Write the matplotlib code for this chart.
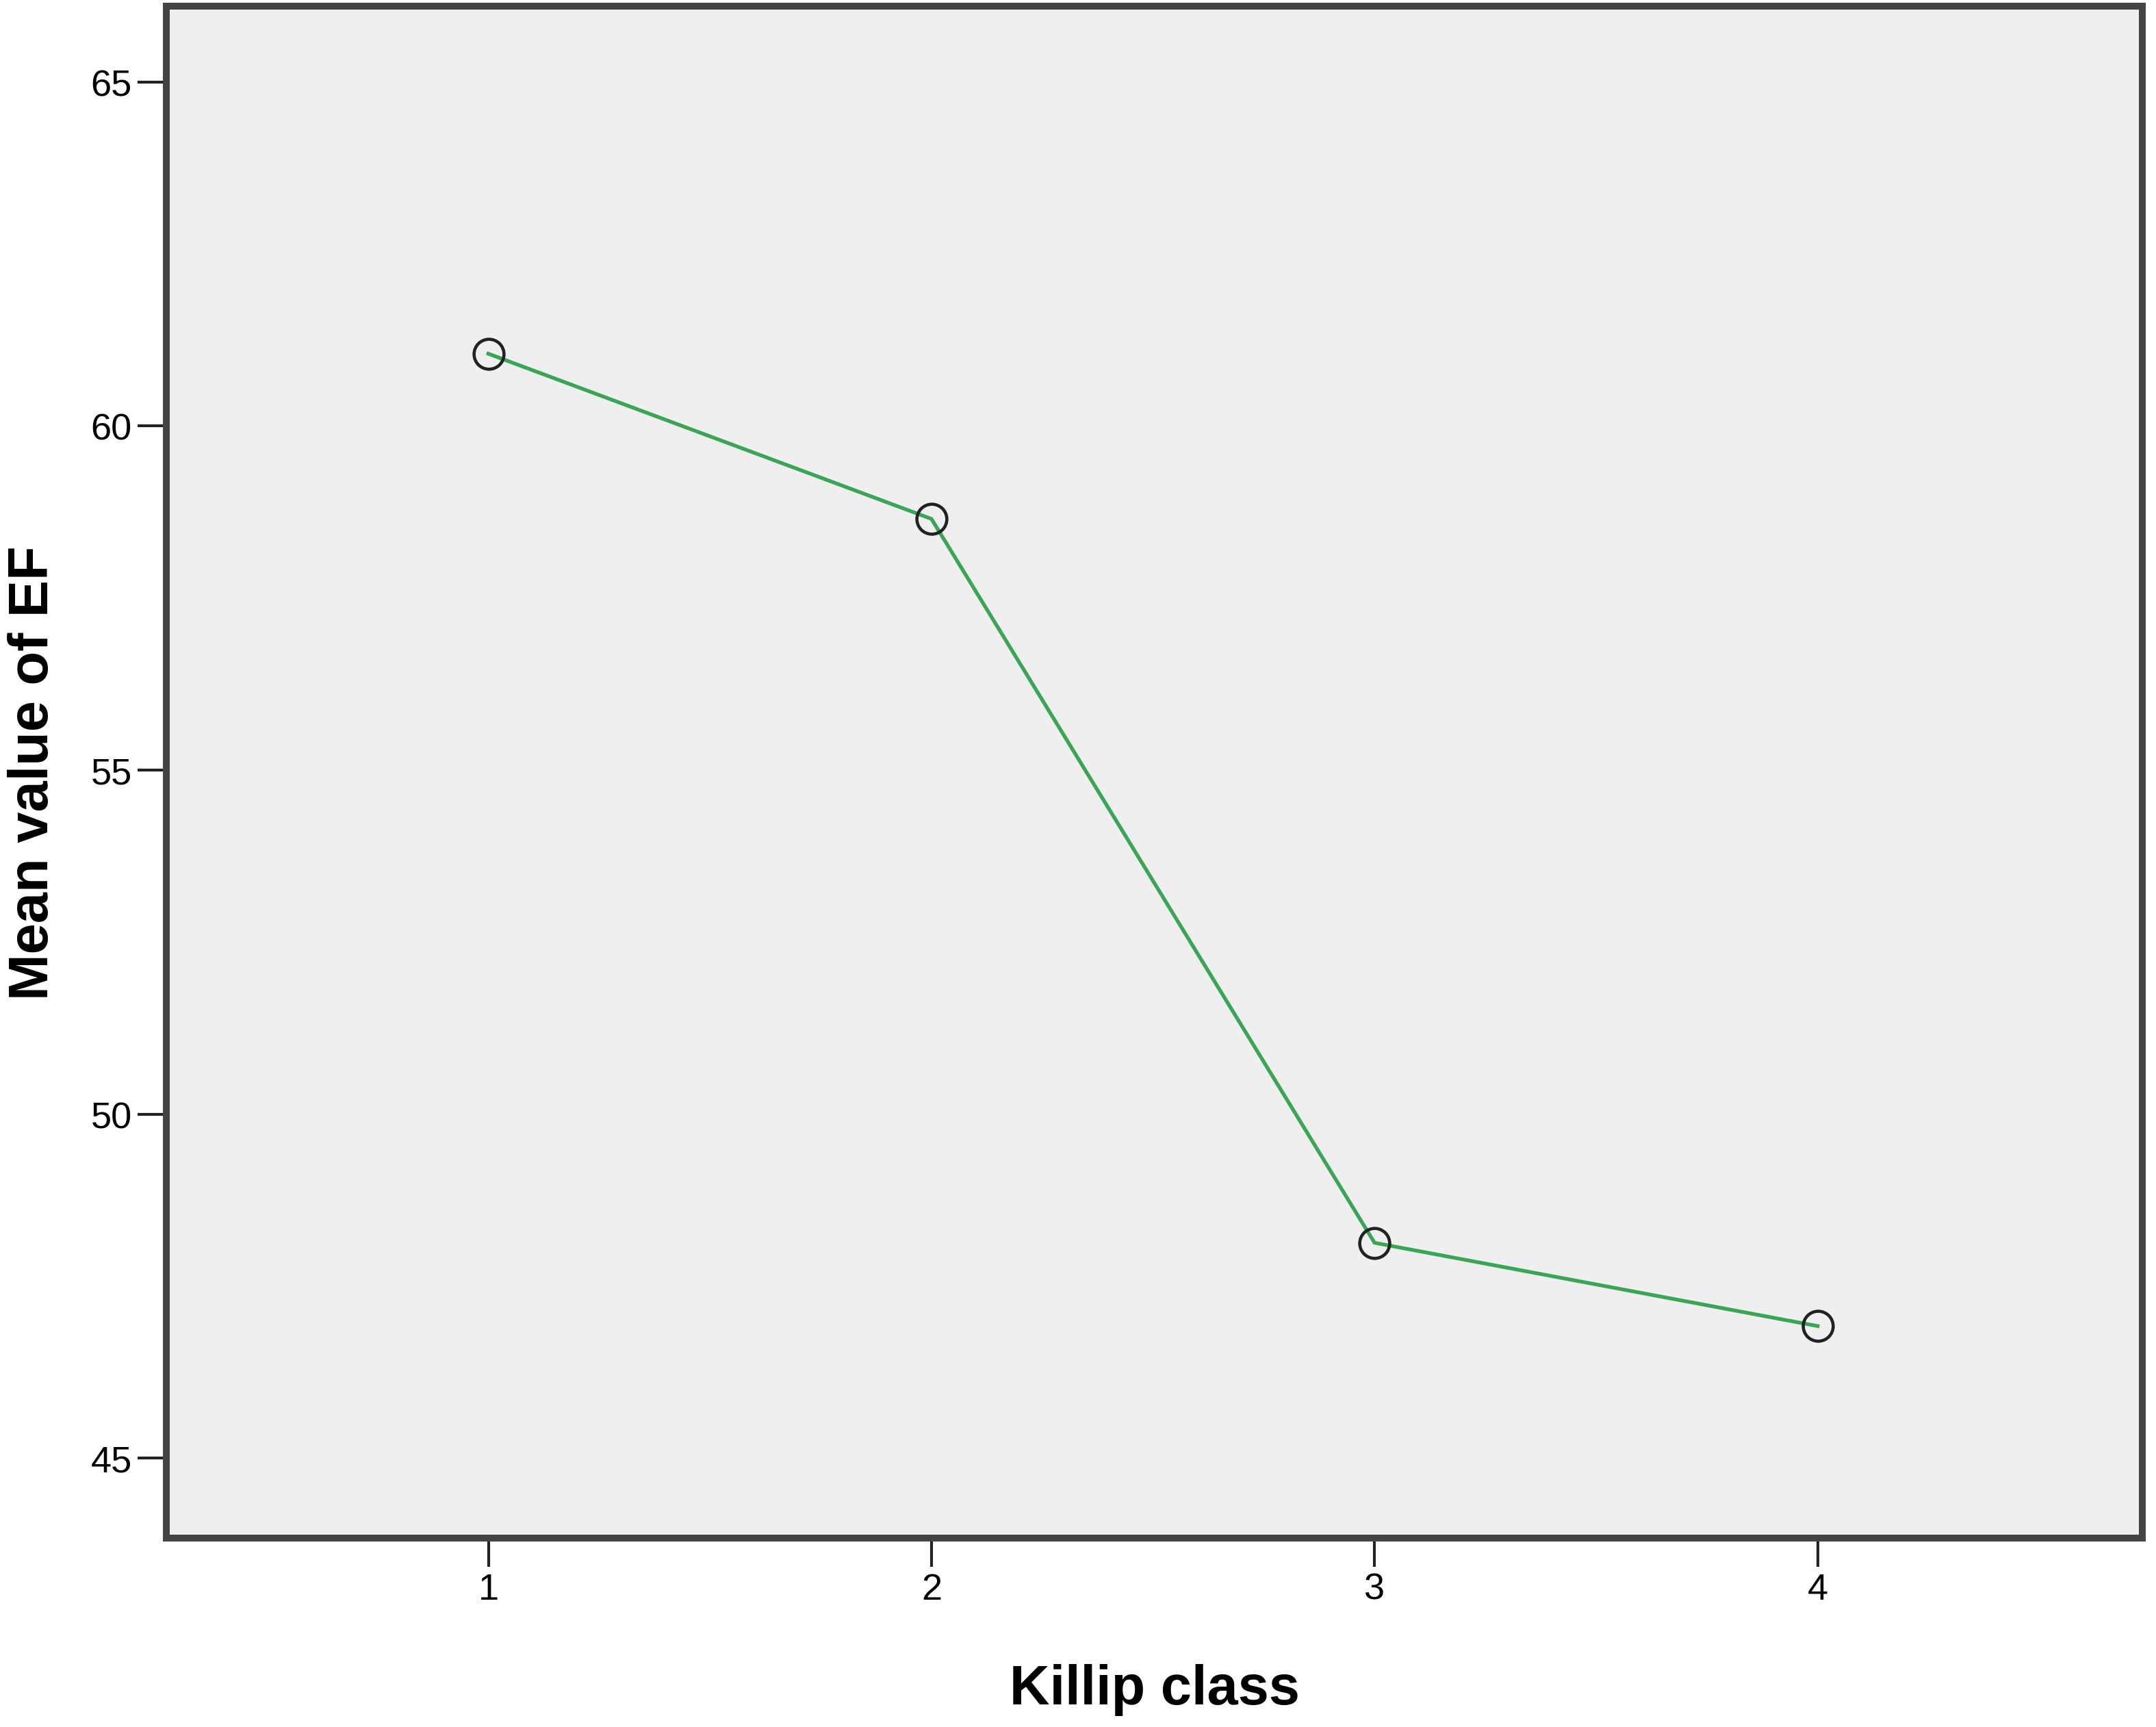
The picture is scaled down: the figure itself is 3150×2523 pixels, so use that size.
import numpy as np
import matplotlib.pyplot as plt

plt.rcParams["font.family"] = ["Liberation Sans", "DejaVu Sans"]

killip = [1, 2, 3, 4]
mean_ef = [61.05, 58.65, 48.13, 46.92]
yticks = [45, 50, 55, 60, 65]

fig = plt.figure(figsize=(10.5, 8.4133), dpi=300)
ax = fig.add_axes([0.0771, 0.1094, 0.9166, 0.8866])
ax.set_facecolor("#efefef")

ax.plot(killip, mean_ef, color="#3aa655", lw=1.3, zorder=2)
ax.plot(killip, mean_ef, "o", ms=10.5, mfc="none", mec="#222222", mew=1.1, zorder=3)

ax.set_xlim(0.273, 4.733)
ax.set_ylim(43.84, 66.1)
ax.set_xticks(killip)
ax.set_yticks(yticks)

for s in ax.spines.values():
    s.set_linewidth(2.4)
    s.set_color("#444444")

ax.tick_params(direction="out", length=10, width=1.0, color="#222222",
               labelsize=13, pad=2)
ax.set_xlabel("Killip class", fontsize=19.5, fontweight="bold", labelpad=20)
ax.set_ylabel("Mean value of EF", fontsize=19.5, fontweight="bold", labelpad=11)

plt.savefig("out.png", dpi=300)
